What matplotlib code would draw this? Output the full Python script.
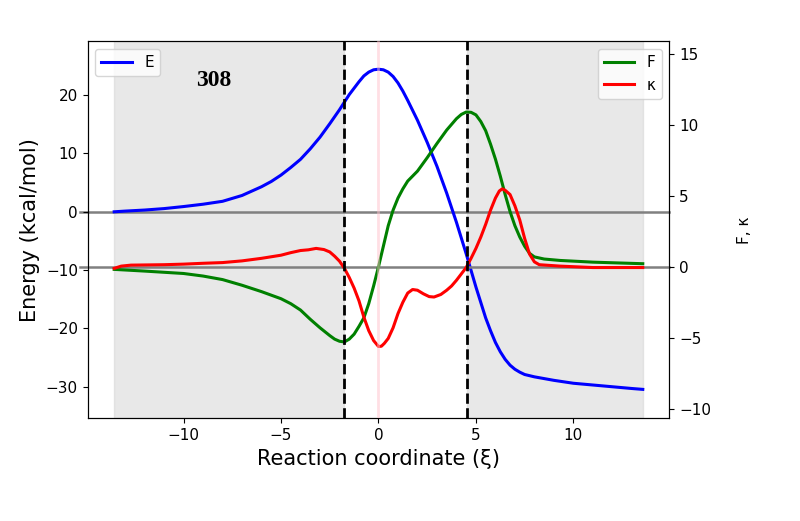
import numpy as np
import matplotlib
matplotlib.use("Agg")
import matplotlib.pyplot as plt

# energy profile E (left axis)
xi_E = [-13.56, -13, -12, -11, -10, -9, -8, -7, -6, -5.5, -5, -4.5, -4, -3.5, -3, -2.5,
        -2, -1.5, -1, -0.75, -0.5, -0.25, 0, 0.25, 0.5, 0.75, 1, 1.25, 1.5, 1.75, 2,
        2.5, 3, 3.5, 4, 4.5, 5, 5.5, 5.75, 6, 6.25, 6.5, 6.75, 7, 7.25, 7.5, 8,
        9, 10, 11, 12, 13, 13.56]
E = [0.0, 0.12, 0.3, 0.55, 0.9, 1.3, 1.8, 2.8, 4.3, 5.2, 6.3, 7.6, 9.0, 10.8, 12.8, 15.1,
     17.5, 20.1, 22.3, 23.3, 23.95, 24.35, 24.45, 24.35, 23.95, 23.2, 22.1, 20.7, 19.1,
     17.4, 15.7, 11.9, 7.8, 3.2, -1.8, -7.2, -12.9, -18.2, -20.4, -22.4, -24.0, -25.3,
     -26.3, -27.0, -27.5, -27.9, -28.3, -28.9, -29.4, -29.7, -30.0, -30.3, -30.45]

# reaction force F (right axis)
xi_F = [-13.56, -12, -10, -9, -8, -7, -6, -5, -4.5, -4, -3.5, -3, -2.5, -2.25, -2,
        -1.75, -1.5, -1.25, -1, -0.75, -0.5, -0.25, 0, 0.25, 0.5, 0.75, 1, 1.25, 1.5,
        1.75, 2, 2.5, 3, 3.5, 4, 4.25, 4.5, 4.75, 5, 5.25, 5.5, 5.75, 6, 6.25, 6.5,
        6.75, 7, 7.25, 7.5, 7.75, 8, 8.5, 9.32, 11, 13.56]
F = [-0.18, -0.3, -0.47, -0.65, -0.9, -1.3, -1.75, -2.25, -2.6, -3.05, -3.7, -4.3,
     -4.85, -5.1, -5.25, -5.3, -5.1, -4.75, -4.2, -3.6, -2.6, -1.35, 0.0, 1.45, 2.9,
     4.0, 4.85, 5.5, 6.05, 6.4, 6.75, 7.7, 8.7, 9.65, 10.45, 10.75, 10.92, 10.9, 10.72,
     10.25, 9.6, 8.65, 7.6, 6.4, 5.1, 3.9, 2.9, 2.1, 1.45, 0.95, 0.7, 0.55, 0.45, 0.33,
     0.22]

# reaction flux kappa (right axis)
xi_k = [-13.56, -13.2, -12.7, -11, -10, -9, -8, -7, -6, -5, -4.5, -4, -3.6, -3.2, -2.8,
        -2.5, -2.25, -2, -1.75, -1.5, -1.25, -1, -0.75, -0.5, -0.25, 0, 0.15, 0.3, 0.5,
        0.75, 1, 1.25, 1.5, 1.75, 2, 2.3, 2.6, 2.85, 3.2, 3.5, 3.75, 4, 4.25, 4.5, 4.75,
        5, 5.25, 5.5, 5.75, 6, 6.2, 6.35, 6.5, 6.75, 7, 7.25, 7.5, 7.75, 8, 8.25, 9.32,
        11, 13.56]
kappa = [-0.11, 0.05, 0.12, 0.15, 0.19, 0.25, 0.3, 0.42, 0.6, 0.82, 1.0, 1.15, 1.2, 1.3,
         1.22, 1.05, 0.75, 0.4, -0.1, -0.75, -1.5, -2.4, -3.55, -4.5, -5.2, -5.62, -5.6,
         -5.4, -5.05, -4.3, -3.3, -2.5, -1.85, -1.6, -1.65, -1.9, -2.1, -2.13, -1.95,
         -1.65, -1.35, -0.95, -0.5, -0.05, 0.6, 1.3, 2.1, 3.0, 4.0, 4.85, 5.35, 5.5, 5.4,
         5.1, 4.3, 3.3, 2.0, 0.9, 0.35, 0.15, 0.05, -0.05, -0.05]

xi_min, xi_max = -13.56, 13.56
xi_r1, xi_r2 = -1.79, 4.53     # reactant / product region limits
label = "308"

fig = plt.figure(figsize=(8, 5.21), dpi=100)
ax = fig.add_axes([0.1096, 0.197, 0.727, 0.724])
ax2 = ax.twinx()

# shaded reactant and product regions
ax.axvspan(xi_min, xi_r1, color="lightgray", alpha=0.5, zorder=0)
ax.axvspan(xi_r2, xi_max, color="lightgray", alpha=0.5, zorder=0)

# zero lines, sticking out a little on the left
ax.plot([-15.3, 14.92], [0, 0], color="gray", lw=1.8, clip_on=False, zorder=1)
ax.plot(xi_E, E, color="blue", lw=2.2, label="E", zorder=2)

ax2.plot([-15.3, 14.92], [0, 0], color="gray", lw=1.8, clip_on=False, zorder=1)
ax2.plot(xi_F, F, color="green", lw=2.2, label="F", zorder=2)
ax2.plot(xi_k, kappa, color="red", lw=2.2, label="κ", zorder=2)

for xv in (xi_r1, xi_r2):
    ax2.axvline(xv, color="black", ls="--", lw=2, zorder=3)
ax2.axvline(0, color="pink", lw=2, alpha=0.5, zorder=4)

ax.set_xlim(-14.92, 14.92)
ax.set_ylim(-35.42, 29.26)
ax2.set_ylim(-10.69, 15.92)
ax.set_xticks([-10, -5, 0, 5, 10])
ax.set_yticks([-30, -20, -10, 0, 10, 20])
ax2.set_yticks([-10, -5, 0, 5, 10, 15])
ax.tick_params(labelsize=11)
ax2.tick_params(labelsize=11)

ax.set_xlabel("Reaction coordinate (ξ)", fontsize=15)
ax.set_ylabel("Energy (kcal/mol)", fontsize=15)
ax2.set_ylabel("F, κ", fontsize=11, labelpad=19)

ax.text(0.216, 0.897, label, transform=ax.transAxes, ha="center", va="center",
        fontsize=17, fontweight="bold", family="Liberation Serif")

ax.legend(loc="upper left", fontsize=11)
ax2.legend(loc="upper right", fontsize=11)

fig.savefig("out.png", dpi=100)
